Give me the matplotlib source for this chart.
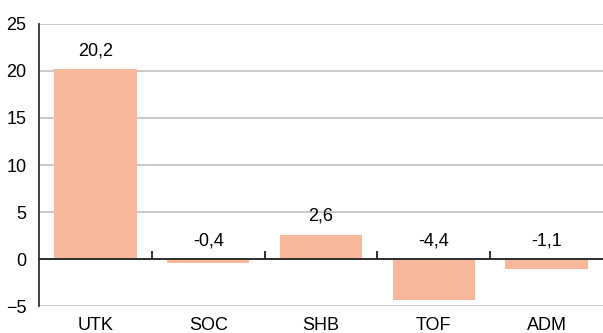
import matplotlib
matplotlib.use('Agg')
import matplotlib.pyplot as plt
import numpy as np

plt.rcParams['font.family'] = ['Liberation Sans', 'DejaVu Sans']

categories = ['UTK', 'SOC', 'SHB', 'TOF', 'ADM']
values = [20.2, -0.4, 2.6, -4.4, -1.1]
labels = ['20,2', '-0,4', '2,6', '-4,4', '-1,1']

fig = plt.figure(figsize=(6.03, 3.33), dpi=100)
ax = fig.add_axes([0.0647, 0.081, 0.9353, 0.847])

x = np.arange(len(categories))
ax.bar(x, values, width=0.73, color='#F6B79A', zorder=2)

ax.set_xlim(-0.5, len(categories) - 0.5)
ax.set_ylim(-5, 25)
ax.set_yticks([-5, 0, 5, 10, 15, 20, 25])
ax.set_xticks(x)
ax.set_xticklabels(categories)
ax.tick_params(axis='both', length=0, labelsize=13)
ax.tick_params(axis='x', pad=8)
ax.tick_params(axis='y', pad=9)

ax.yaxis.grid(True, color='#C0C0C0', linewidth=1.2, zorder=0)
for s in ['top', 'right', 'bottom']:
    ax.spines[s].set_visible(False)
ax.spines['left'].set_color('#333333')
ax.spines['left'].set_linewidth(1.3)

# zero line with category separators
ax.axhline(0, color='#222222', linewidth=1.3, zorder=3)
ax.vlines(x[:-1] + 0.5, 0, 0.8, color='#222222', linewidth=1.3, zorder=3)

for xi, v, lab in zip(x, values, labels):
    ax.annotate(lab, (xi, max(v, 0)), xytext=(0, 7), textcoords='offset points',
                ha='center', va='bottom', fontsize=13)

fig.savefig('out.png', dpi=100)
